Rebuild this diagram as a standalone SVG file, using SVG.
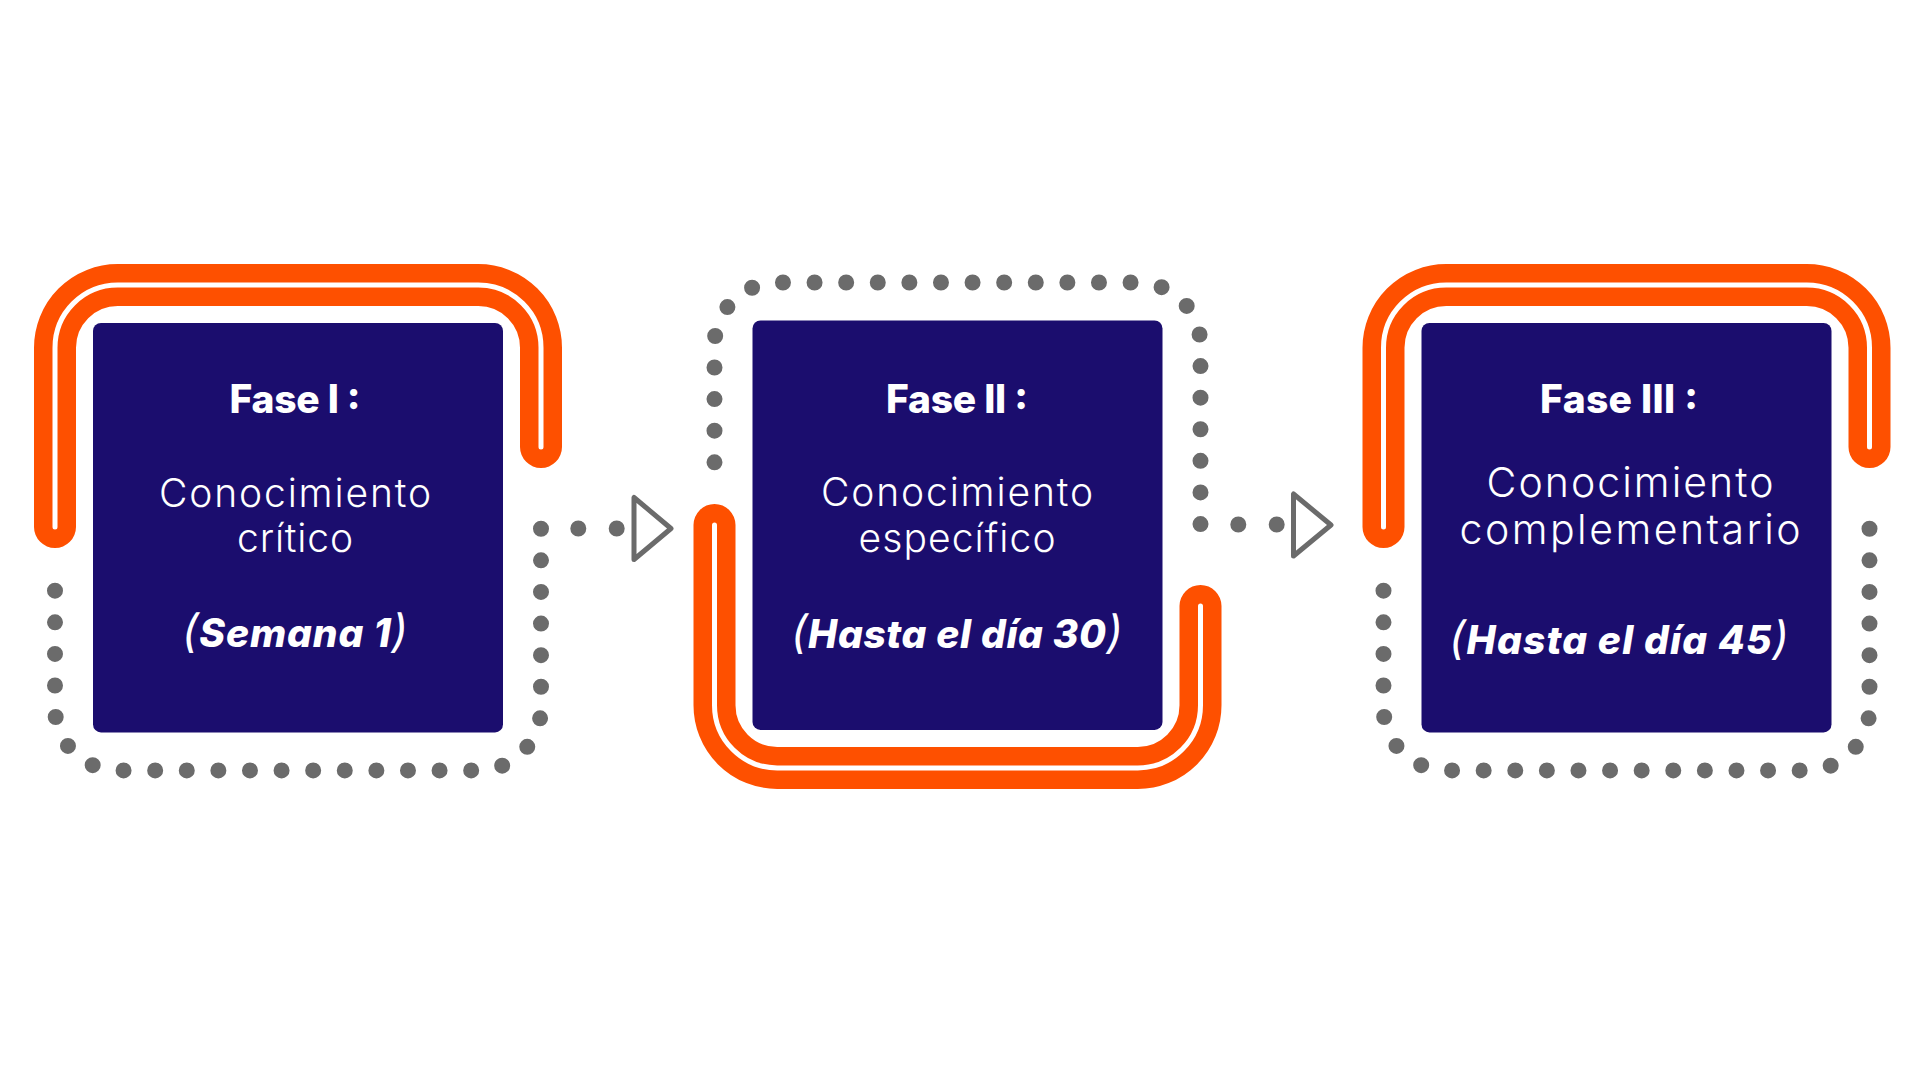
<svg xmlns="http://www.w3.org/2000/svg" width="1920" height="1080" viewBox="0 0 1920 1080">
<defs>
<style>
.card{fill:#1b0d6e}
.band{fill:none;stroke:#fe5000;stroke-width:42;stroke-linecap:round;stroke-linejoin:round}
.band-line{fill:none;stroke:#ffffff;stroke-width:5;stroke-linecap:round;stroke-linejoin:round}
.dots{fill:none;stroke:#6b6b6b;stroke-width:16;stroke-linecap:round;stroke-dasharray:0 31.6}
.cdots{fill:none;stroke:#6b6b6b;stroke-width:16;stroke-linecap:round;stroke-dasharray:0 38.4}
.arrow{fill:none;stroke:#6b6b6b;stroke-width:5;stroke-linejoin:round}
text{fill:#ffffff;text-anchor:middle;font-family:"Inter","Open Sans","DejaVu Sans",sans-serif}
.title{font-size:39px;font-weight:800}
.body{font-size:39px;font-weight:300}
.body3{font-size:41px;font-weight:300}
.date{font-size:39px;font-weight:800;font-style:italic}
.paren{font-weight:400;font-size:45px}
</style>
</defs>
<rect width="1920" height="1080" fill="#ffffff"/>

<g id="phase1">
<path class="dots" d="M 55 590.7 V 707.7 A 62.7 62.7 0 0 0 117.7 770.4 H 478.3 A 62.7 62.7 0 0 0 541 707.7 V 525"/>
<path class="band" d="M 55 527 V 347.7 A 62.7 62.7 0 0 1 117.7 285 H 478.3 A 62.7 62.7 0 0 1 541 347.7 V 447"/>
<path class="band-line" d="M 55 527 V 347.7 A 62.7 62.7 0 0 1 117.7 285 H 478.3 A 62.7 62.7 0 0 1 541 347.7 V 447"/>
<rect class="card" x="93" y="323" width="410" height="409.4" rx="8"/>
<text class="title" x="295" y="413" textLength="131">Fase I :</text>
<text class="body" x="295" y="507" textLength="272">Conocimiento</text>
<text class="body" x="295" y="552" textLength="116">crítico</text>
<text class="date" x="295" y="647" textLength="226"><tspan class="paren">(</tspan>Semana 1<tspan class="paren">)</tspan></text>
</g>

<g id="phase2">
<path class="dots" d="M 714.5 462.3 V 345.2 A 62.7 62.7 0 0 1 777.2 282.5 H 1137.8 A 62.7 62.7 0 0 1 1200.5 345.2 V 527"/>
<path class="band" d="M 714.5 525 V 705.2 A 62.7 62.7 0 0 0 777.2 767.9 H 1137.8 A 62.7 62.7 0 0 0 1200.5 705.2 V 606"/>
<path class="band-line" d="M 714.5 525 V 705.2 A 62.7 62.7 0 0 0 777.2 767.9 H 1137.8 A 62.7 62.7 0 0 0 1200.5 705.2 V 606"/>
<rect class="card" x="752.5" y="320.5" width="410" height="409.4" rx="8"/>
<text class="title" x="957" y="413" textLength="142">Fase II :</text>
<text class="body" x="957" y="506" textLength="272">Conocimiento</text>
<text class="body" x="957" y="552" textLength="197">específico</text>
<text class="date" x="957" y="648" textLength="332"><tspan class="paren">(</tspan>Hasta el día 30<tspan class="paren">)</tspan></text>
</g>

<g id="phase3">
<path class="dots" d="M 1383.5 590.7 V 707.7 A 62.7 62.7 0 0 0 1446.2 770.4 H 1806.8 A 62.7 62.7 0 0 0 1869.5 707.7 V 525"/>
<path class="band" d="M 1383.5 527 V 347.7 A 62.7 62.7 0 0 1 1446.2 285 H 1806.8 A 62.7 62.7 0 0 1 1869.5 347.7 V 447"/>
<path class="band-line" d="M 1383.5 527 V 347.7 A 62.7 62.7 0 0 1 1446.2 285 H 1806.8 A 62.7 62.7 0 0 1 1869.5 347.7 V 447"/>
<rect class="card" x="1421.5" y="323" width="410" height="409.4" rx="8"/>
<text class="title" x="1619" y="413" textLength="158">Fase III :</text>
<text class="body3" x="1630" y="497" textLength="287">Conocimiento</text>
<text class="body3" x="1630" y="543.5" textLength="341">complementario</text>
<text class="date" x="1619" y="654" textLength="340"><tspan class="paren">(</tspan>Hasta el día 45<tspan class="paren">)</tspan></text>
</g>

<g id="connectors">
<path class="cdots" d="M 578.3 528.5 H 617.5"/>
<polygon class="arrow" points="634,497.5 634,559.5 671,528.5"/>
<path class="cdots" d="M 1238.3 524.5 H 1277"/>
<polygon class="arrow" points="1293.5,494 1293.5,556 1331,525"/>
</g>
</svg>
